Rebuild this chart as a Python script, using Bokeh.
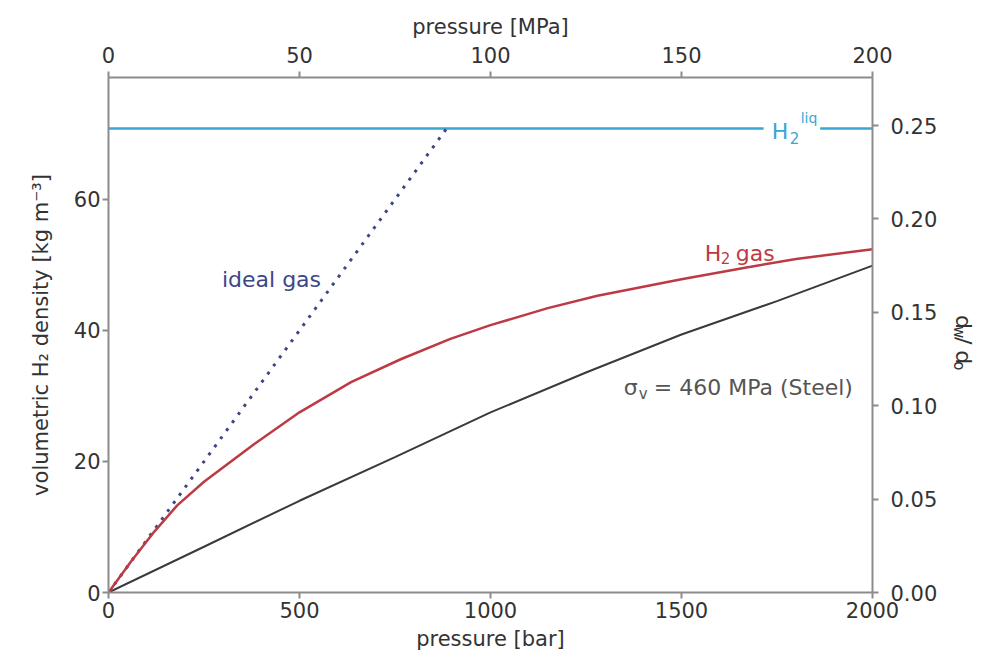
import numpy as np
from bokeh.plotting import figure
from bokeh.layouts import row
from bokeh.models import Range1d, LinearAxis, FixedTicker, NumeralTickFormatter
from bokeh.embed import file_html
from bokeh.resources import INLINE
from bokeh.core.properties import value

# ---------------- data ----------------
pressure_bar = [0, 60, 120, 180, 250, 380, 500, 635, 765, 895, 1000, 1150, 1280, 1500, 1670, 1800, 2000]
h2_gas_density = [0, 4.8, 9.3, 13.3, 16.9, 22.6, 27.5, 32.1, 35.6, 38.7, 40.8, 43.4, 45.3, 47.8, 49.6, 50.9, 52.4]

steel_pressure_bar = [0, 250, 500, 750, 1000, 1250, 1500, 1750, 2000]
steel_dw_do = [0, 0.0245, 0.0491, 0.0725, 0.0964, 0.1178, 0.1381, 0.1560, 0.1750]

ideal_pressure_bar = [0, 885]
ideal_density = [0, 70.8]

liquid_pressure_bar = [0, 2000]
liquid_density = [70.8, 70.8]

x_ticks_bar = [0, 500, 1000, 1500, 2000]
x_ticks_mpa = [0, 50, 100, 150, 200]
y_ticks_density = [0, 20, 40, 60]
y_ticks_ratio = [0, 0.05, 0.10, 0.15, 0.20, 0.25]

FONT = "DejaVu Sans"
AXIS_COL = "#8c8c8c"
TXT_COL = "#333333"
RED = "#bd3a44"
BLUE = "#3aa6d6"
NAVY = "#3d4689"
DARK = "#3a3a3a"

MAIN_W = 945
H = 657

p = figure(width=MAIN_W, height=H,
           x_range=Range1d(0, 2000), y_range=Range1d(0, 78.6),
           output_backend="svg", toolbar_location=None,
           min_border_left=108, min_border_right=MAIN_W - 872,
           min_border_top=77, min_border_bottom=65)
p.extra_x_ranges = {"mpa": Range1d(0, 200)}
p.extra_y_ranges = {"ratio": Range1d(0, 0.2757)}
p.grid.visible = False
p.outline_line_color = None
p.background_fill_color = "white"
p.border_fill_color = "white"

bottom_axis = p.below[0]
left_axis = p.left[0]
top_axis = LinearAxis(x_range_name="mpa", ticker=FixedTicker(ticks=x_ticks_mpa),
                      axis_label="pressure [MPa]")
right_axis = LinearAxis(y_range_name="ratio", ticker=FixedTicker(ticks=y_ticks_ratio),
                        formatter=NumeralTickFormatter(format="0.00"))
p.add_layout(top_axis, "above")
p.add_layout(right_axis, "right")

bottom_axis.ticker = FixedTicker(ticks=x_ticks_bar)
bottom_axis.axis_label = "pressure [bar]"
left_axis.ticker = FixedTicker(ticks=y_ticks_density)
left_axis.axis_label = "volumetric H\u2082 density [kg m\u207b\u00b3]"

for ax in [bottom_axis, left_axis, top_axis, right_axis]:
    ax.axis_line_color = AXIS_COL
    ax.axis_line_width = 2
    ax.major_tick_line_color = AXIS_COL
    ax.major_tick_line_width = 2
    ax.major_tick_out = 6
    ax.major_tick_in = 0
    ax.minor_tick_line_color = None
    ax.major_label_text_font = FONT
    ax.major_label_text_font_size = "21px"
    ax.major_label_text_color = TXT_COL
    ax.axis_label_text_font = FONT
    ax.axis_label_text_font_size = "21px"
    ax.axis_label_text_font_style = "normal"
    ax.axis_label_text_color = TXT_COL

bottom_axis.major_label_standoff = 3
bottom_axis.axis_label_standoff = 6
top_axis.major_label_standoff = 9
top_axis.axis_label_standoff = 5
left_axis.major_label_standoff = 2
left_axis.axis_label_standoff = 18
right_axis.major_label_standoff = 12

# ---------------- curves ----------------
p.line(liquid_pressure_bar, liquid_density, line_color=BLUE, line_width=2.5)
p.line(ideal_pressure_bar, ideal_density, line_color=NAVY, line_width=3,
       line_dash="3 7")
p.line(steel_pressure_bar, steel_dw_do, y_range_name="ratio",
       line_color=DARK, line_width=2)
p.line(pressure_bar, h2_gas_density, line_color=RED, line_width=2.5)

# ---------------- in-plot labels ----------------
def txt(fig, x, y, t, color, size="22px", xo=0, yo=0, **kw):
    fig.text(x=[x], y=[y], text=[t], text_font=value(FONT), text_font_size=size,
             text_color=color, text_align="left", text_baseline="alphabetic",
             x_offset=xo, y_offset=yo, **kw)

txt(p, 297, 47.8, "ideal gas", NAVY)

txt(p, 1561, 51.8, "H", RED)
txt(p, 1561, 51.8, "2", RED, size="15px", xo=16, yo=5)
txt(p, 1561, 51.8, "gas", RED, xo=31)

txt(p, 1715, 70.4, "H", BLUE, background_fill_color="white",
    padding=dict(left=8, right=32, top=0, bottom=0))
txt(p, 1715, 70.4, "2", BLUE, size="15px", xo=26, yo=7)
txt(p, 1715, 70.4, "liq", BLUE, size="14px", xo=37, yo=-13)

txt(p, 1349, 31.3, "\u03c3", "#555555")
txt(p, 1349, 31.3, "v", "#555555", size="15px", xo=15, yo=7)
txt(p, 1349, 31.3, "= 460 MPa (Steel)", "#555555", xo=30)

# ---------------- right-hand axis title d_w / d_o (reads top to bottom) ----------------
side_w = 981 - MAIN_W
q = figure(width=side_w, height=H, x_range=Range1d(0, side_w), y_range=Range1d(0, H),
           output_backend="svg", toolbar_location=None, min_border=0)
q.axis.visible = False
q.grid.visible = False
q.outline_line_color = None
q.background_fill_color = "white"
q.border_fill_color = "white"

def rtxt(x, y, t, size):
    q.text(x=[x], y=[y], text=[t], angle=-np.pi / 2, text_font=value(FONT),
           text_font_size=size, text_color=TXT_COL, text_align="left",
           text_baseline="alphabetic")

rtxt(18, H - 303, "d", "22px")
rtxt(13, H - 317, "w", "15px")
rtxt(18, H - 331, "/", "22px")
rtxt(18, H - 348, "d", "22px")
rtxt(13, H - 362, "o", "15px")

layout = row(p, q, spacing=0)
open("out.html", "w").write(file_html(layout, INLINE))
